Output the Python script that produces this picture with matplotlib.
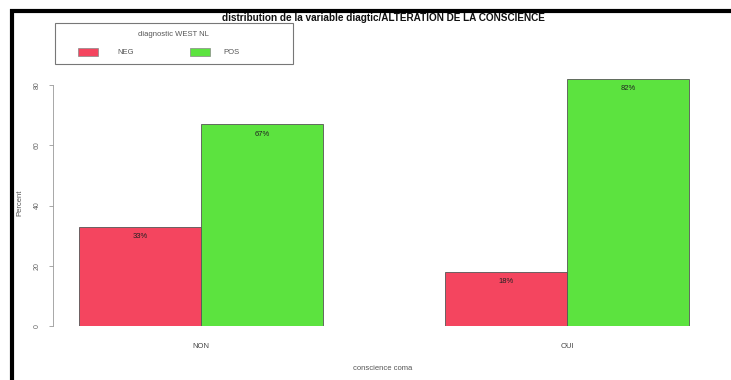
import numpy as np
import matplotlib
matplotlib.use("Agg")
import matplotlib.pyplot as plt
from matplotlib.patches import Rectangle
from matplotlib.lines import Line2D

plt.rcParams['font.family'] = ['Liberation Sans', 'DejaVu Sans']

# percent of each diagnostic within each level of the variable
categories = ["NON", "OUI"]
groups = ["NEG", "POS"]
neg_pct = [33, 18]
pos_pct = [67, 82]
y_ticks = [0, 20, 40, 60, 80]

col_neg = "#f4455f"
col_pos = "#5ce33f"

W, H = 731, 380
fig = plt.figure(figsize=(W / 100, H / 100), dpi=100)


def px(x, y):
    # pixel position (from top-left) -> figure fraction
    return x / W, 1 - y / H


# axes placed in pixel terms: y=0 at 326 px, x spine at 53 px
ax = fig.add_axes([53 / W, (H - 326) / H, (715 - 53) / W, (326 - 70) / H])

x = np.arange(len(categories)) * 3.0
bw = 1.0
b1 = ax.bar(x, neg_pct, width=bw, color=col_neg, edgecolor="#555555", linewidth=0.6)
b2 = ax.bar(x + bw, pos_pct, width=bw, color=col_pos, edgecolor="#555555", linewidth=0.6)

for bars, vals in ((b1, neg_pct), (b2, pos_pct)):
    for r, v in zip(bars, vals):
        ax.text(r.get_x() + r.get_width() / 2, v - 3.3, "%d%%" % v,
                ha="center", va="center", fontsize=5.5, color="#222222")

ax.set_xlim(-0.713, 4.713)
ax.set_ylim(0, 85)
ax.set_xticks(x + bw / 2)
ax.set_xticklabels(categories, fontsize=5.5, color="#444444")
ax.tick_params(axis="x", length=0, pad=12)
ax.set_yticks(y_ticks)
ax.set_yticklabels([str(t) for t in y_ticks], rotation=90, va="center",
                   fontsize=5, color="#666666")
ax.tick_params(axis="y", length=3, color="#999999", width=0.6, pad=6)

for s in ("top", "right", "bottom"):
    ax.spines[s].set_visible(False)
ax.spines["left"].set_color("#999999")
ax.spines["left"].set_linewidth(0.6)
ax.spines["left"].set_bounds(0, 80)

fig.text(*px(20, 203), "Percent", rotation=90, ha="center", va="center",
         fontsize=5.5, color="#555555")
fig.text(*px(383, 368), "conscience coma", ha="center", va="center",
         fontsize=5.5, color="#555555")
fig.text(*px(383, 18), "distribution de la variable diagtic/ALTERATION DE LA CONSCIENCE",
         ha="center", va="center", fontsize=7.2, fontweight="bold", color="#111111")

# legend box drawn by hand
x0, y0 = px(55, 64)
fig.add_artist(Rectangle((x0, y0), 238 / W, 41 / H, transform=fig.transFigure,
                         facecolor="white", edgecolor="#777777", linewidth=0.8))
fig.text(*px(173, 35), "diagnostic WEST NL", ha="center", va="center",
         fontsize=5.5, color="#555555")
for (sx, tx), lab, col in zip([(78, 117), (190, 223)], groups, [col_neg, col_pos]):
    rx, ry = px(sx, 56)
    fig.add_artist(Rectangle((rx, ry), 20 / W, 8 / H, transform=fig.transFigure,
                             facecolor=col, edgecolor="#888888", linewidth=0.5))
    fig.text(*px(tx, 52), lab, ha="left", va="center", fontsize=5.5, color="#555555")

# black frame on the top and left edge
fig.add_artist(Line2D([10 / W, 1], [1 - 11 / H, 1 - 11 / H], color="black",
                      linewidth=3, solid_capstyle="butt"))
fig.add_artist(Line2D([12 / W, 12 / W], [0, 1 - 9 / H], color="black",
                      linewidth=3, solid_capstyle="butt"))

fig.savefig("out.png", dpi=100)
